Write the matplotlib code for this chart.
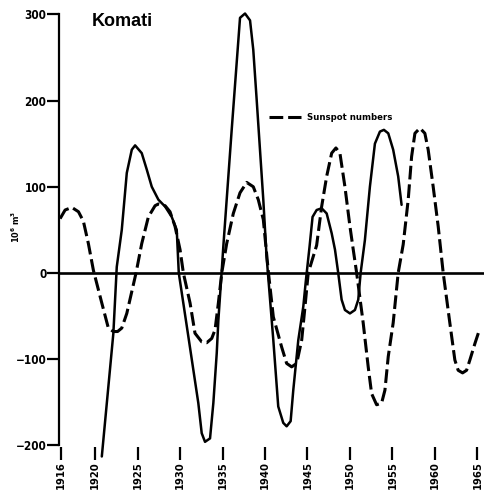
import matplotlib
matplotlib.use("Agg")
import matplotlib.pyplot as plt
from matplotlib import font_manager

# Komati runoff anomaly (10^6 m^3)
runoff_year = [1920.79, 1922.15, 1922.55, 1923.14, 1923.73, 1924.32, 1924.71, 1925.49,
               1926.08, 1926.67, 1927.45, 1928.24, 1929.02, 1929.61, 1929.85, 1930.98,
               1932.15, 1932.55, 1932.94, 1933.53, 1933.92, 1934.32, 1934.51, 1934.91,
               1935.09, 1936.08, 1937.06, 1937.65, 1938.24, 1938.62, 1939.02, 1939.41,
               1939.80, 1940.18, 1940.98, 1941.56, 1942.15, 1942.55, 1943.02, 1943.33,
               1943.92, 1944.51, 1944.80, 1945.24, 1945.60, 1946.08, 1946.67, 1947.26,
               1947.85, 1948.24, 1948.62, 1949.02, 1949.41, 1950.00, 1950.59, 1950.98,
               1951.26, 1951.76, 1952.35, 1952.94, 1953.53, 1954.00, 1954.51, 1955.09,
               1955.68, 1956.08]
runoff_val = [-213, -70, 7, 50, 116, 143, 148, 139,
              120, 100, 85, 77, 65, 50, 0, -74,
              -151, -186, -196, -192, -151, -93, -55, 3,
              30, 166, 296, 301, 293, 259, 201, 143,
              85, 20, -78, -155, -174, -178, -172, -136,
              -78, -39, -10, 30, 65, 73, 75, 69,
              46, 27, 0, -31, -43, -47, -43, -31,
              0, 38, 100, 150, 164, 166, 162, 143,
              112, 79]

# Sunspot numbers (scaled anomaly)
sun_year = [1915.88, 1916.47, 1917.26, 1918.04, 1918.62, 1919.21, 1919.80, 1920.79,
            1921.56, 1922.15, 1922.65, 1923.14, 1923.73, 1924.82, 1925.49, 1926.27,
            1927.06, 1927.45, 1928.24, 1928.82, 1929.41, 1930.00, 1930.39, 1931.18,
            1931.76, 1932.55, 1933.14, 1933.73, 1934.12, 1934.51, 1934.91, 1935.49,
            1936.27, 1937.06, 1937.85, 1938.62, 1939.21, 1939.80, 1940.41, 1940.98,
            1941.96, 1942.55, 1943.14, 1943.73, 1944.32, 1944.71, 1945.09, 1946.08,
            1946.67, 1947.26, 1947.85, 1948.35, 1948.82, 1949.41, 1950.00, 1950.39,
            1950.79, 1951.56, 1952.15, 1952.55, 1953.14, 1953.73, 1954.12, 1954.51,
            1955.09, 1955.68, 1956.27, 1956.86, 1957.26, 1957.65, 1958.24, 1958.82,
            1959.21, 1959.80, 1960.39, 1960.98, 1961.76, 1962.35, 1962.74, 1963.26,
            1963.73, 1964.12, 1964.71, 1965.21]
sun_val = [63, 73, 76, 71, 60, 34, 3, -35,
           -64, -68, -68, -64, -47, 0, 34, 65,
           78, 80, 78, 71, 54, 27, 0, -35,
           -70, -80, -81, -76, -66, -35, 0, 34,
           69, 93, 105, 100, 85, 62, 0, -51,
           -86, -105, -109, -105, -78, -39, 0, 32,
           77, 112, 139, 145, 139, 100, 54, 27,
           0, -58, -109, -140, -153, -151, -136, -97,
           -58, 0, 33, 85, 135, 162, 168, 162,
           143, 100, 54, 0, -58, -101, -113, -116,
           -113, -101, -82, -67]

x_ticks = [1916, 1920, 1925, 1930, 1935, 1940, 1945, 1950, 1955, 1960, 1965]
y_ticks = [300, 200, 100, 0, -100, -200]
y_ticklabels = ["300", "200", "100", "0", "\u2212100", "\u2212200"]

title = "Komati"
y_label = r"$\mathregular{10^6\ m^3}$"
legend_label = "Sunspot numbers"

W, H = 485, 491


def narrow(size):
    return font_manager.FontProperties(family="DejaVu Sans", stretch="condensed",
                                       weight="bold", size=size)


fig = plt.figure(figsize=(W / 100, H / 100), dpi=100)
ax = fig.add_axes([59 / W, 1 - 447 / H, (W - 59) / W, (447 - 8) / H])

ax.set_xlim(1915.75, 1965.9)
ax.set_ylim(-202, 307.4)

ax.plot(runoff_year, runoff_val, color="black", lw=1.8, solid_capstyle="round",
        solid_joinstyle="round", clip_on=False)
ax.plot(sun_year, sun_val, color="black", lw=2.2, linestyle=(0, (4.5, 1.6)),
        dash_capstyle="butt", label=legend_label, clip_on=False)

ax.axhline(0, color="black", lw=1.9)

for s in ["top", "right", "bottom"]:
    ax.spines[s].set_visible(False)
ax.spines["left"].set_linewidth(1.6)
ax.spines["left"].set_bounds(-200, 300)

ax.set_yticks(y_ticks)
ax.set_yticklabels(y_ticklabels, fontproperties=narrow(8.5))
ax.tick_params(axis="y", direction="out", length=8.6, width=1.6, pad=0.5)

ax.set_xticks(x_ticks)
ax.set_xticklabels([str(t) for t in x_ticks], rotation=90, fontproperties=narrow(8))
ax.tick_params(axis="x", direction="out", length=9.4, width=1.6, pad=1.0)

fig.text(92 / W, 1 - 22 / H, title, ha="left", va="center", fontsize=13,
         weight="bold", family=["Liberation Sans", "DejaVu Sans"])
fig.text(16 / W, 1 - 227 / H, y_label, rotation=90, ha="center", va="center",
         fontproperties=narrow(6.5))

ax.legend(loc="center left", bbox_to_anchor=(269 / W, 1 - 118 / H),
          bbox_transform=fig.transFigure, frameon=False, borderpad=0,
          borderaxespad=0, handlelength=3.4, handletextpad=0.6,
          prop=narrow(6.8))

fig.savefig("out.png", dpi=100)
